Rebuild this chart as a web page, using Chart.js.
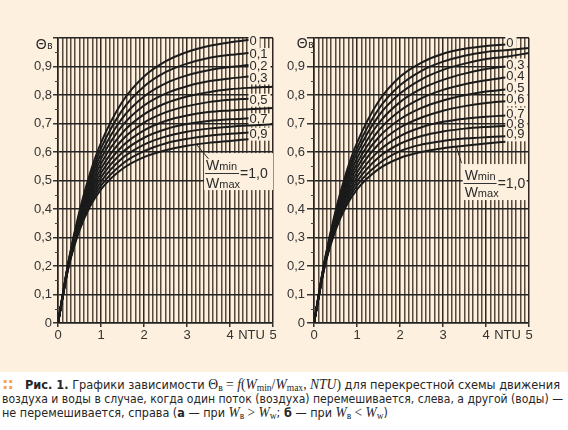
<!DOCTYPE html>
<html>
<head>
<meta charset="utf-8">
<script src="https://cdn.jsdelivr.net/npm/chart.js@4.4.1/dist/chart.umd.min.js"></script>
<style>
body { margin: 0; width: 568px; height: 430px; background: #fff; overflow: hidden; position: relative; }
#panel { position: absolute; left: 0; top: 0; width: 568px; height: 372px; background: #fdf0de; }
canvas { position: absolute; top: 0; }
#cap .ln { position: absolute; white-space: nowrap; font: 13px/16px "Liberation Sans Narrow", "DejaVu Sans Condensed", "Liberation Sans", sans-serif; color: #262626; transform-origin: 0 50%; }
#cap .m { font-family: "Liberation Serif", "DejaVu Serif", serif; font-size: 14px; }
#cap sub { font-size: 70%; vertical-align: -0.2em; line-height: 0; }
#cap #dots { color: #f2a74e; font: bold 16px/16px "DejaVu Sans", sans-serif; letter-spacing: -1px; }
</style>
</head>
<body>
<div id="panel"></div>
<canvas id="chartLeft" width="284" height="350" style="left:0"></canvas>
<canvas id="chartRight" width="284" height="350" style="left:284px"></canvas>
<div id="cap">
  <div class="ln" id="dots" style="left:2px;top:376px">::</div>
  <div class="ln" data-w="535" style="left:25px;top:377px"><b>Рис. 1.</b> Графики зависимости <span class="m">Θ<sub>в</sub> = <i>f</i>(<i>W</i><sub>min</sub>/<i>W</i><sub>max</sub>, <i>NTU</i>)</span> для перекрестной схемы движения</div>
  <div class="ln" data-w="561" style="left:2px;top:391px">воздуха и воды в случае, когда один поток (воздуха) перемешивается, слева, а другой (воды) —</div>
  <div class="ln" data-w="386" style="left:2px;top:405px">не перемешивается, справа (<b>а</b> — при <span class="m"><i>W</i><sub>в</sub> &gt; <i>W</i><sub>w</sub></span>; <b>б</b> — при <span class="m"><i>W</i><sub>в</sub> &lt; <i>W</i><sub>w</sub></span>)</div>
</div>
<script>
const BG = '#fdf0de';
const FONT = '"Liberation Sans", Arial, sans-serif';

// W_min / W_max for each curve
const ratios = [0, 0.1, 0.2, 0.3, 0.4, 0.5, 0.6, 0.7, 0.8, 0.9, 1.0];

// NTU points where the curves were read
const ntuLeft = [0, 0.25, 0.5, 0.75, 1, 1.5, 2, 2.5, 3, 3.5, 4, 4.43, 5];
const ntuRight = [0, 0.25, 0.5, 0.75, 1, 1.5, 2, 2.5, 3, 3.5, 4, 4.45, 5];

// left: air flow mixed (W_в > W_w)
const leftCurves = [
    [0, .221, .393, .528, .632, .777, .865, .918, .951, .972, .985, .993],
    [0, .219, .386, .514, .613, .748, .830, .880, .910, .930, .941, .947],
    [0, .216, .378, .501, .594, .720, .795, .841, .869, .887, .898, .905],
    [0, .214, .371, .488, .576, .693, .763, .805, .831, .848, .858, .865],
    [0, .212, .364, .476, .559, .668, .732, .771, .795, .810, .820, .825, .829],
    [0, .209, .357, .464, .542, .644, .703, .739, .761, .775, .783, .787],
    [0, .207, .351, .452, .526, .621, .676, .709, .728, .740, .746, .750, .754],
    [0, .205, .344, .441, .511, .599, .650, .680, .698, .709, .715, .718],
    [0, .203, .338, .430, .496, .579, .626, .654, .671, .682, .689, .693, .697],
    [0, .201, .331, .420, .482, .559, .603, .630, .646, .657, .664, .668],
    [0, .199, .325, .410, .469, .541, .582, .606, .622, .632, .639, .645]
];

// right: water flow not mixed (W_в < W_w)
const rightCurves = [
    [0, .221, .393, .528, .632, .777, .864, .914, .945, .962, .972, .977],
    [0, .219, .386, .514, .613, .750, .834, .885, .917, .938, .951, .957, .965],
    [0, .216, .379, .502, .596, .726, .805, .855, .888, .910, .926, .934, .947],
    [0, .214, .371, .489, .578, .700, .775, .822, .853, .875, .891, .900],
    [0, .212, .364, .477, .561, .675, .745, .789, .818, .838, .852, .861],
    [0, .209, .357, .465, .545, .651, .715, .755, .781, .799, .812, .819],
    [0, .207, .351, .453, .528, .627, .686, .721, .745, .761, .772, .778],
    [0, .205, .344, .442, .512, .603, .656, .687, .706, .717, .724, .728],
    [0, .203, .338, .431, .497, .581, .629, .656, .672, .682, .688, .692],
    [0, .201, .331, .420, .483, .558, .603, .626, .639, .647, .652, .655],
    [0, .199, .325, .410, .469, .540, .579, .600, .613, .622, .630, .636]
];

const leftLabels = ['0', '0,1', '0,2', '0,3', '', '0,5', '', '0,7', '', '0,9', ''];
const rightLabels = ['0', '', '', '0,3', '0,4', '0,5', '0,6', '0,7', '0,8', '0,9', ''];

const xTickLabels = ['0', '1', '2', '3', '4', '5'];
const yTickLabels = ['0', '0,1', '0,2', '0,3', '0,4', '0,5', '0,6', '0,7', '0,8', '0,9'];
const xAxisName = 'NTU';
const yAxisName = 'Θ';
const yAxisSub = 'в';
const ratioText = '=1,0';

const decor = {
    id: 'decor',
    beforeDatasetsDraw(chart, args, o) {
        const {ctx, chartArea: a, scales: {x, y}} = chart;
        ctx.save();
        // short minor ticks every 0.05
        ctx.strokeStyle = '#444';
        ctx.lineWidth = 1;
        for (let t = 5; t < 100; t += 10) {
            const py = Math.round(y.getPixelForValue(t / 100)) + 0.5;
            ctx.beginPath();
            ctx.moveTo(a.left - 3, py);
            ctx.lineTo(a.left, py);
            ctx.stroke();
        }
        // backgrounds behind curve labels
        ctx.font = '13px ' + FONT;
        ctx.fillStyle = BG;
        chart.data.datasets.forEach((ds, i) => {
            const txt = o.labels[i];
            if (!txt) return;
            const last = ds.data[ds.data.length - 1];
            const px = x.getPixelForValue(last.x);
            const py = y.getPixelForValue(last.y) + o.labelDy;
            ctx.fillRect(px, py - 6.5, ctx.measureText(txt).width + 4, 13);
        });
        // box of the W_min/W_max note
        const fx = x.getPixelForValue(o.frac[0]);
        const fy = y.getPixelForValue(o.frac[1]);
        ctx.fillRect(fx + o.box[0], fy + o.box[1], o.box[2], o.box[3]);
        // leader line
        ctx.strokeStyle = '#222';
        ctx.beginPath();
        ctx.moveTo(x.getPixelForValue(o.leader[0]), y.getPixelForValue(o.leader[1]));
        ctx.lineTo(x.getPixelForValue(o.leader[2]), y.getPixelForValue(o.leader[3]));
        ctx.stroke();
        ctx.restore();
    },
    afterDatasetsDraw(chart, args, o) {
        const {ctx, chartArea: a, scales: {x, y}} = chart;
        ctx.save();
        ctx.fillStyle = '#2a2a2a';
        ctx.textBaseline = 'middle';
        ctx.font = '13px ' + FONT;
        chart.data.datasets.forEach((ds, i) => {
            const txt = o.labels[i];
            if (!txt) return;
            const last = ds.data[ds.data.length - 1];
            ctx.fillText(txt, x.getPixelForValue(last.x) + 1, y.getPixelForValue(last.y) + o.labelDy);
        });

        // fraction W_min / W_max = 1,0
        const fx = x.getPixelForValue(o.frac[0]);
        const fy = y.getPixelForValue(o.frac[1]);
        ctx.textBaseline = 'alphabetic';
        ctx.strokeStyle = '#333';
        ctx.lineWidth = 1;
        ctx.beginPath();
        ctx.moveTo(fx, Math.round(fy) + 0.5);
        ctx.lineTo(fx + o.barW, Math.round(fy) + 0.5);
        ctx.stroke();
        ctx.font = '14px ' + FONT;
        const wW = ctx.measureText('W').width;
        ctx.fillText('W', fx + 1, fy - 3.3);
        ctx.fillText('W', fx + 1, fy + o.lowDy);
        ctx.fillText(ratioText, fx + o.barW + 1, fy + 5);
        ctx.font = '11px ' + FONT;
        ctx.fillText('min', fx + 1 + wW, fy - 3);
        ctx.fillText('max', fx + 1 + wW, fy + o.lowDy + 0.5);

        // axis name Θв at the top of the y axis
        const ty = y.getPixelForValue(1) + o.thetaDy;
        ctx.font = '14px ' + FONT;
        const wT = ctx.measureText(yAxisName).width;
        ctx.font = '10px ' + FONT;
        const wS = ctx.measureText(yAxisSub).width;
        const sx = a.left - o.thetaGap - wT - wS;
        ctx.font = '14px ' + FONT;
        ctx.fillText(yAxisName, sx, ty);
        ctx.font = '10px ' + FONT;
        ctx.fillText(yAxisSub, sx + wT + 0.5, ty);
        ctx.restore();
    }
};

function buildChart(id, ntu, curves, cfg) {
    const tenth = v => Math.round(v * 10);
    return new Chart(document.getElementById(id), {
        type: 'line',
        data: {
            datasets: curves.map((c, i) => ({
                label: 'Wmin/Wmax = ' + ratios[i],
                data: c.map((v, j) => ({x: ntu[j], y: v})),
                borderColor: '#1b1b1b',
                borderWidth: 2,
                pointRadius: 0,
                fill: false,
                cubicInterpolationMode: 'monotone'
            }))
        },
        options: {
            responsive: false,
            animation: false,
            events: [],
            layout: {padding: {left: 0, right: cfg.padRight, top: 38, bottom: 5}},
            plugins: {
                legend: {display: false},
                tooltip: {enabled: false},
                decor: cfg
            },
            scales: {
                x: {
                    type: 'linear',
                    min: 0,
                    max: 5,
                    afterFit: s => { s.height = 22; },
                    border: {display: true, color: '#222', width: 1.5},
                    grid: {
                        color: c => tenth(c.tick.value) % 10 === 0 ? 'rgba(30,22,15,0.92)' : 'rgba(50,36,24,0.82)',
                        lineWidth: 1.5,
                        tickLength: 4,
                        tickColor: c => tenth(c.tick.value) % 10 === 0 ? '#333' : 'transparent'
                    },
                    ticks: {
                        stepSize: 0.1,
                        autoSkip: false,
                        maxRotation: 0,
                        padding: 1,
                        color: '#333',
                        font: {family: FONT, size: 13},
                        callback: v => {
                            const t = tenth(v);
                            if (t % 10 === 0) return xTickLabels[t / 10];
                            if (t === 45) return xAxisName;
                            return '';
                        }
                    }
                },
                y: {
                    min: 0,
                    max: 1,
                    afterFit: s => { s.width = cfg.axisW; },
                    border: {display: true, color: '#222', width: 1.5},
                    grid: {
                        color: c => Math.round(c.tick.value * 100) % 10 === 0 ? '#232323' : 'transparent',
                        lineWidth: 1.5,
                        tickLength: cfg.tickLen,
                        tickColor: c => Math.round(c.tick.value * 100) % 10 === 0 ? '#333' : 'transparent'
                    },
                    ticks: {
                        stepSize: 0.05,
                        autoSkip: false,
                        padding: cfg.tickPad,
                        color: '#333',
                        font: {family: FONT, size: 13},
                        callback: v => {
                            const t = Math.round(v * 100);
                            if (t % 10 !== 0 || t === 100) return '';
                            return yTickLabels[t / 10];
                        }
                    }
                }
            }
        },
        plugins: [decor]
    });
}

buildChart('chartLeft', ntuLeft, leftCurves, {
    labels: leftLabels, labelDy: 1.5,
    axisW: 58, padRight: 11, tickLen: 5, tickPad: 1,
    frac: [3.42, 0.526], box: [-1, -20, 69, 37], barW: 34, lowDy: 14.7,
    leader: [3.23, 0.625, 3.50, 0.576],
    thetaGap: 6, thetaDy: 11
});

buildChart('chartRight', ntuRight, rightCurves, {
    labels: rightLabels, labelDy: -1.5,
    axisW: 30, padRight: 39, tickLen: 7, tickPad: 2,
    frac: [3.48, 0.491], box: [-1, -19, 64, 36], barW: 33, lowDy: 13.7,
    leader: [3.31, 0.619, 3.43, 0.561],
    thetaGap: 1, thetaDy: 10
});

document.querySelectorAll('#cap .ln[data-w]').forEach(el => {
    const w = el.getBoundingClientRect().width;
    el.style.transform = 'scaleX(' + (el.dataset.w / w) + ')';
});
</script>
</body>
</html>
